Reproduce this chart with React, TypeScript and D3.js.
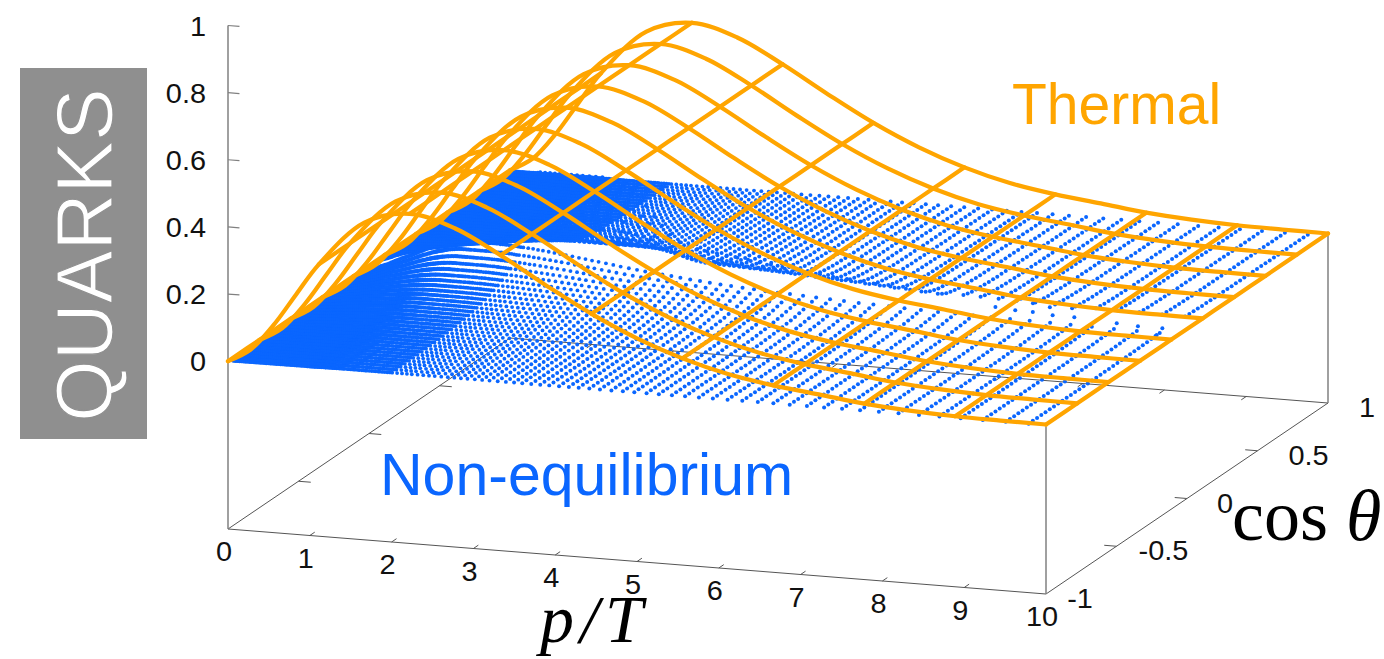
import React from "react";
import * as d3 from "d3";

const WIDTH = 1384;
const HEIGHT = 659;
const ORANGE = "#ffa500";
const BLUE = "#0a66ff";
const AXIS = "#555";

// Thermal surface: height read off the wire curves along p (it does not vary with cos theta)
const thermalP = [0, 0.278, 0.556, 0.833, 1.111, 1.667, 2.222, 2.778, 3.333, 3.889, 4.444, 5, 5.556, 6.111, 6.667, 7.222, 7.778, 8.333, 8.889, 9.444, 10];
const thermalZ = [0, 0.04, 0.118, 0.215, 0.31, 0.445, 0.482, 0.449, 0.38, 0.301, 0.227, 0.165, 0.116, 0.08, 0.057, 0.041, 0.024, 0.014, 0.008, 0.006, 0.005];
const wireP = [0, 1.111, 2.222, 3.333, 4.444, 5.556, 6.667, 7.778, 8.889, 10];
const wireCos = [-1, -0.778, -0.556, -0.333, -0.111, 0.111, 0.333, 0.556, 0.778, 1];

// Non-equilibrium point cloud: rows in p, amplitude of the lower and upper lobes for each row
const rowPHigh = [9.77, 9.49, 9.21, 8.94, 8.68, 8.43, 8.18, 7.94, 7.71, 7.49, 7.27, 7.06, 6.85, 6.65, 6.46, 6.27, 6.09, 5.91, 5.74, 5.57, 5.41, 5.25, 5.1, 4.95, 4.81, 4.67, 4.53, 4.4, 4.27, 4.15, 4.03, 3.91, 3.8, 3.69, 3.58, 3.48];
const lowerAmpHigh = [0.006, 0.006, 0.007, 0.008, 0.009, 0.01, 0.011, 0.012, 0.013, 0.014, 0.015, 0.016, 0.018, 0.019, 0.021, 0.023, 0.024, 0.026, 0.028, 0.03, 0.032, 0.034, 0.035, 0.037, 0.04, 0.042, 0.044, 0.046, 0.049, 0.052, 0.054, 0.057, 0.06, 0.062, 0.065, 0.067];
const upperAmpHigh = [0.007, 0.008, 0.01, 0.012, 0.013, 0.015, 0.017, 0.019, 0.021, 0.024, 0.027, 0.029, 0.032, 0.035, 0.039, 0.042, 0.046, 0.05, 0.054, 0.058, 0.062, 0.066, 0.07, 0.075, 0.079, 0.083, 0.088, 0.092, 0.096, 0.1, 0.104, 0.108, 0.112, 0.125, 0.145, 0.17];
const rowPMid = [3.38, 3.28, 3.18, 3.09, 3.0, 2.91, 2.83, 2.75, 2.67, 2.59, 2.51, 2.44, 2.37, 2.3, 2.23, 2.17, 2.11, 2.05, 1.99];
const lowerAmpMid = [0.07, 0.073, 0.076, 0.079, 0.082, 0.085, 0.087, 0.09, 0.092, 0.095, 0.097, 0.099, 0.101, 0.103, 0.105, 0.106, 0.108, 0.109, 0.11];
const upperAmpMid = [0.195, 0.225, 0.255, 0.272, 0.285, 0.293, 0.297, 0.3, 0.3, 0.3, 0.3, 0.3, 0.3, 0.3, 0.3, 0.3, 0.3, 0.3, 0.3];
const rowPLow = [
  1.96, 1.93, 1.9,
  1.87, 1.84, 1.82, 1.79, 1.77, 1.74, 1.71, 1.68, 1.66, 1.64,
  1.62, 1.59, 1.57, 1.54, 1.52, 1.5, 1.48, 1.46, 1.44, 1.41,
  1.39, 1.37, 1.35, 1.33, 1.31, 1.29, 1.28, 1.26, 1.24, 1.22,
  1.2, 1.18, 1.17, 1.15, 1.13, 1.11, 1.1, 1.08, 1.07, 1.05,
  1.04, 1.02, 1.01, 0.99, 0.98, 0.96, 0.95, 0.925, 0.9, 0.875,
  0.85, 0.825, 0.8, 0.775, 0.75, 0.725, 0.7, 0.675, 0.65, 0.625,
  0.6, 0.575, 0.55, 0.525, 0.5, 0.475, 0.45, 0.425, 0.4, 0.375,
  0.35, 0.325, 0.3, 0.275, 0.25, 0.225, 0.2, 0.175, 0.15, 0.125,
  0.1, 0.075, 0.05,
];
const lowerAmpLow = [
  0.11, 0.111, 0.112,
  0.112, 0.113, 0.113, 0.114, 0.114, 0.114, 0.114, 0.115, 0.115, 0.115,
  0.115, 0.115, 0.115, 0.115, 0.115, 0.115, 0.115, 0.115, 0.115, 0.115,
  0.115, 0.115, 0.115, 0.115, 0.115, 0.115, 0.115, 0.115, 0.114, 0.114,
  0.113, 0.112, 0.112, 0.111, 0.11, 0.109, 0.108, 0.107, 0.106, 0.105,
  0.104, 0.103, 0.102, 0.101, 0.1, 0.098, 0.097, 0.095, 0.092, 0.09,
  0.087, 0.085, 0.082, 0.079, 0.076, 0.073, 0.07, 0.067, 0.064, 0.061,
  0.058, 0.056, 0.053, 0.05, 0.048, 0.045, 0.042, 0.039, 0.036, 0.033,
  0.03, 0.027, 0.025, 0.022, 0.02, 0.017, 0.014, 0.012, 0.009, 0.007,
  0.005, 0.003, 0.002,
];
const upperAmpLow = [
  0.298, 0.296, 0.293,
  0.29, 0.285, 0.28, 0.275, 0.27, 0.265, 0.26, 0.255, 0.25, 0.247,
  0.243, 0.238, 0.233, 0.228, 0.224, 0.22, 0.216, 0.212, 0.208, 0.203,
  0.199, 0.195, 0.191, 0.187, 0.183, 0.18, 0.178, 0.174, 0.17, 0.167,
  0.163, 0.159, 0.157, 0.154, 0.151, 0.148, 0.146, 0.143, 0.14, 0.137,
  0.135, 0.131, 0.129, 0.126, 0.124, 0.121, 0.119, 0.115, 0.111, 0.107,
  0.104, 0.1, 0.096, 0.092, 0.088, 0.084, 0.081, 0.077, 0.073, 0.07,
  0.067, 0.063, 0.06, 0.057, 0.054, 0.05, 0.047, 0.044, 0.04, 0.037,
  0.034, 0.03, 0.027, 0.024, 0.021, 0.019, 0.016, 0.013, 0.011, 0.008,
  0.006, 0.004, 0.002,
];
const rowP = [...rowPHigh, ...rowPMid, ...rowPLow];
const lowerAmp = [...lowerAmpHigh, ...lowerAmpMid, ...lowerAmpLow];
const upperAmp = [...upperAmpHigh, ...upperAmpMid, ...upperAmpLow];

const lowerCos = [-0.99, -0.96, -0.93, -0.9, -0.87, -0.84, -0.81, -0.78, -0.75, -0.72, -0.69, -0.66, -0.63, -0.6, -0.57, -0.54, -0.51, -0.48, -0.45, -0.42, -0.39, -0.36, -0.33, -0.3, -0.27, -0.24, -0.21, -0.18, -0.15, -0.12, -0.09, -0.06];
const lowerShape = [0.013, 0.015, 0.018, 0.02, 0.023, 0.027, 0.031, 0.035, 0.041, 0.047, 0.054, 0.062, 0.071, 0.082, 0.094, 0.108, 0.124, 0.142, 0.164, 0.188, 0.216, 0.248, 0.286, 0.328, 0.377, 0.434, 0.498, 0.573, 0.658, 0.757, 0.87, 1];
const upperCos = [0.06, 0.09, 0.12, 0.15, 0.18, 0.21, 0.24, 0.27, 0.3, 0.33, 0.36, 0.39, 0.42, 0.45, 0.48, 0.51, 0.54, 0.57, 0.6, 0.63, 0.66, 0.69, 0.72, 0.75, 0.78, 0.81, 0.84, 0.87, 0.9, 0.93, 0.96, 0.99];
const upperShape = [1, 0.72, 0.52, 0.38, 0.28, 0.21, 0.16, 0.12, 0.09, 0.07, 0.055, 0.045, 0.035, 0.03, 0.025, 0.02, 0.018, 0.015, 0.012, 0.01, 0.008, 0.007, 0.006, 0.005, 0.004, 0.003, 0.003, 0.002, 0.002, 0.001, 0.001, 0];

// Isolated points seen in the gap at high p
const strayP = [7.52, 7.79, 8.01, 7.87, 8.28, 8.55, 8.38, 8.12, 9.11, 9.39, 9.69, 9.74];
const strayCos = [0.08, 0.064, 0.061, 0.143, 0.045, 0.042, 0.125, 0.118, 0.018, 0.006, 0.005, -0.064];

const pTicks = [0, 1, 2, 3, 4, 5, 6, 7, 8, 9, 10];
const cosTicks = [-1, -0.5, 0, 0.5, 1];
const cosTickLabels = ["-1", "-0.5", "0", "0.5", "1"];
const zTicks = [0, 0.2, 0.4, 0.6, 0.8, 1];
const zTickLabels = ["0", "0.2", "0.4", "0.6", "0.8", "1"];

// Oblique projection: each data axis contributes a linear offset on the page
const pToX = d3.scaleLinear().domain([0, 10]).range([0, 818]);
const pToY = d3.scaleLinear().domain([0, 10]).range([0, 65]);
const cosToX = d3.scaleLinear().domain([-1, 1]).range([0, 282]);
const cosToY = d3.scaleLinear().domain([-1, 1]).range([0, -191]);
const zToY = d3.scaleLinear().domain([-0.5, 1]).range([0, -503.5]);
const ORIGIN_X = 228;
const ORIGIN_Y = 529;
const BASE_Z = -0.5;
const HIGH_P_GAP = 7;
const COS_LABEL_DX = [34, 47, 38, 51, 39];

const px = (p: number, c: number) => ORIGIN_X + pToX(p) + cosToX(c);
const py = (p: number, c: number, z: number) => ORIGIN_Y + pToY(p) + cosToY(c) + zToY(z);

const dotRadius = d3.scaleLinear().domain([1, 1.5, 3, 4]).range([2.2, 1.9, 1.9, 2.0]).clamp(true);

const curve = d3.line<[number, number]>().x((d) => d[0]).y((d) => d[1]).curve(d3.curveCatmullRom.alpha(0.5));

function seg(a: [number, number, number], b: [number, number, number], stroke: string, width: number, key: string) {
  return <line key={key} x1={px(a[0], a[1])} y1={py(a[0], a[1], a[2])} x2={px(b[0], b[1])} y2={py(b[0], b[1], b[2])} stroke={stroke} strokeWidth={width} />;
}

function Tick({ x, y, anchor, label }: { x: number; y: number; anchor: string; label: string }) {
  return <text transform={`translate(${x},${y}) scale(1.07,1)`} textAnchor={anchor}>{label}</text>;
}

export default function App() {
  const sans = "'Liberation Sans', sans-serif";
  const serif = "'Liberation Serif', serif";
  const dots: React.ReactNode[] = [];
  rowP.forEach((p, i) => {
    lowerCos.forEach((c, j) => {
      dots.push(<circle key={`l${i}-${j}`} cx={px(p, c)} cy={py(p, c, lowerAmp[i] * lowerShape[j])} r={dotRadius(p)} fill={BLUE} />);
    });
    upperCos.forEach((c, j) => {
      if (p > HIGH_P_GAP && j < 2) return;
      dots.push(<circle key={`u${i}-${j}`} cx={px(p, c)} cy={py(p, c, upperAmp[i] * upperShape[j])} r={dotRadius(p)} fill={BLUE} />);
    });
  });
  return (
    <svg width={WIDTH} height={HEIGHT} style={{ position: "absolute", left: 0, top: 0, background: "#fff" }}>
      <rect x={20} y={68} width={127} height={371} fill="#8f8f8f" />
      <text transform="translate(112,255) rotate(-90)" textAnchor="middle" fontFamily={sans} fontSize={79} fill="#fff" stroke="#8f8f8f" strokeWidth={1.2} paintOrder="fill stroke">QUARKS</text>

      {seg([0, -1, BASE_Z], [10, -1, BASE_Z], AXIS, 1, "b1")}
      {seg([10, -1, BASE_Z], [10, 1, BASE_Z], AXIS, 1, "b2")}
      {seg([10, 1, BASE_Z], [0, 1, BASE_Z], AXIS, 1, "b3")}
      {seg([0, 1, BASE_Z], [0, -1, BASE_Z], AXIS, 1, "b4")}
      {seg([0, -1, BASE_Z], [0, -1, 1], "#808080", 1.5, "v1")}
      {seg([10, -1, BASE_Z], [10, -1, 0], "#808080", 1.5, "v2")}
      {seg([10, 1, BASE_Z], [10, 1, 0], "#808080", 1.5, "v3")}
      {pTicks.slice(1, -1).map((p) => (
        <g key={`pt${p}`}>
          {seg([p, -1, BASE_Z], [p, -0.965, BASE_Z], AXIS, 1, "a")}
          {seg([p, 1, BASE_Z], [p, 0.965, BASE_Z], AXIS, 1, "b")}
        </g>
      ))}
      {cosTicks.slice(1, -1).map((c) => (
        <g key={`ct${c}`}>
          {seg([0, c, BASE_Z], [0.15, c, BASE_Z], AXIS, 1, "a")}
          {seg([10, c, BASE_Z], [9.85, c, BASE_Z], AXIS, 1, "b")}
        </g>
      ))}
      {zTicks.map((z) => seg([0, -1, z], [0.14, -1, z], "#808080", 1.2, `zt${z}`))}

      <g>{dots}</g>
      <g>{strayP.map((p, i) => <circle key={`s${i}`} cx={px(p, strayCos[i])} cy={py(p, strayCos[i], 0)} r={2} fill={BLUE} />)}</g>

      <g fill="none" stroke={ORANGE} strokeWidth={4.2} strokeLinejoin="round" strokeLinecap="round">
        {wireCos.map((c) => (
          <path key={`wc${c}`} d={curve(thermalP.map((p, i) => [px(p, c), py(p, c, thermalZ[i])] as [number, number])) || ""} />
        ))}
        {wireP.map((p) => {
          const z = thermalZ[thermalP.indexOf(p)];
          return <path key={`wp${p}`} d={curve(wireCos.map((c) => [px(p, c), py(p, c, z)] as [number, number])) || ""} />;
        })}
      </g>

      <g fontFamily={sans} fontSize={27} fill="#111">
        {zTicks.map((z, i) => (
          <Tick key={`zl${z}`} x={206} y={py(0, -1, z) + 10} anchor="end" label={zTickLabels[i]} />
        ))}
        {pTicks.map((p) => (
          <Tick key={`pl${p}`} x={px(p, -1) - 4} y={py(p, -1, BASE_Z) + 32} anchor="middle" label={String(p)} />
        ))}
        {cosTicks.map((c, i) => (
          <Tick key={`cl${c}`} x={px(10, c) + COS_LABEL_DX[i]} y={py(10, c, BASE_Z) + 14} anchor="middle" label={cosTickLabels[i]} />
        ))}
      </g>

      <text x={1012} y={124} fontFamily={sans} fontSize={57} fill={ORANGE}>Thermal</text>
      <text x={380} y={495} fontFamily={sans} fontSize={59} fill={BLUE}>Non-equilibrium</text>
      <text x={540} y={642} fontFamily={serif} fontSize={68} fill="#000" fontStyle="italic" letterSpacing={6}>p/T</text>
      <text x={1232} y={540} fontFamily={serif} fontSize={72} fill="#000">cos <tspan fontStyle="italic">θ</tspan></text>
    </svg>
  );
}
